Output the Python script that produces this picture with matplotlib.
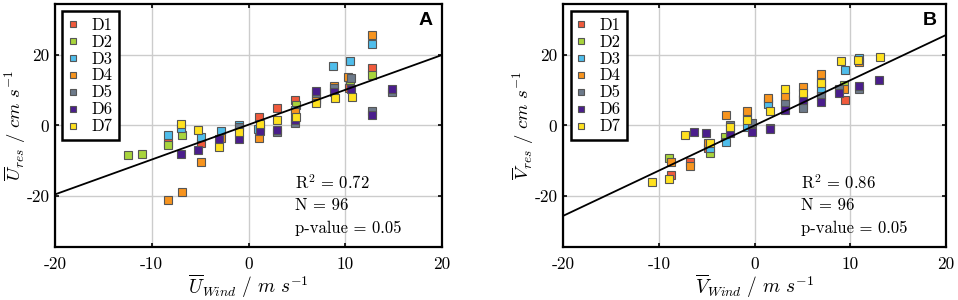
import numpy as np
import matplotlib
matplotlib.use("Agg")
import matplotlib.pyplot as plt

plt.rcParams["font.family"] = ["cmr10", "DejaVu Serif"]
plt.rcParams["mathtext.fontset"] = "cm"
plt.rcParams["axes.unicode_minus"] = False
plt.rcParams["axes.formatter.use_mathtext"] = False

# ---------------------------------------------------------------------------
# DATA
# ---------------------------------------------------------------------------
groups = ["D1", "D2", "D3", "D4", "D5", "D6", "D7"]
colors = ["#F05A3C", "#A8D43C", "#4FBDEB", "#F7941E", "#6D7A8A", "#4A1D8C", "#FFE11F"]

# Panel A: U wind vs U residual
a_x = [
    [-8.3, -4.9, 1.1, 2.9, 4.8, 10.4, 12.8],
    [-12.5, -11.0, -8.3, -6.9, 1.2, 4.9, 10.5, 12.8],
    [-8.3, -7.0, -4.9, -2.8, -1.0, 1.0, 4.8, 7.0, 8.7, 10.5, 12.8],
    [-8.3, -6.9, -4.9, -2.8, 1.1, 4.8, 7.0, 8.8, 10.3, 12.8],
    [-1.0, 2.9, 4.8, 7.0, 8.8, 10.6, 12.8, 14.8],
    [-7.0, -5.2, -3.1, -1.0, 1.2, 2.9, 4.8, 7.0, 8.8, 10.6, 12.8, 14.8],
    [-7.0, -5.2, -3.0, -1.0, 1.2, 2.9, 4.9, 7.0, 8.9, 10.7],
]
a_y = [
    [-4.9, -4.9, 2.5, 5.0, 7.2, 10.7, 16.4],
    [-8.5, -8.0, -5.7, -2.8, -0.5, 5.7, 12.8, 14.2],
    [-2.8, -0.8, -3.3, -1.6, 0.0, -1.1, 4.5, 7.0, 16.8, 18.4, 23.1],
    [-21.3, -18.9, -10.4, -3.7, -3.5, 3.7, 7.6, 11.2, 13.7, 25.8],
    [-0.5, -1.8, 0.7, 9.2, 10.7, 13.5, 4.0, 9.5],
    [-8.2, -7.0, -3.9, -3.9, -1.5, -1.3, 1.4, 9.7, 9.6, 10.3, 2.9, 10.2],
    [0.3, -1.4, -6.2, -1.9, 0.3, 1.6, 2.3, 6.4, 7.9, 8.1],
]

# Panel B: V wind vs V residual
b_x = [
    [-8.7, -6.7, -4.9, 6.9, 9.4],
    [-8.9, -4.7, -3.1, -0.8, 1.4, 5.0, 6.9, 9.3],
    [-4.7, -3.0, -0.8, 1.4, 3.2, 5.0, 6.9, 9.4, 10.9],
    [-8.7, -6.7, -4.9, -3.0, -0.8, 1.4, 3.2, 5.0, 6.9, 9.3, 10.9],
    [-2.6, -0.3, 1.6, 3.2, 5.0, 6.9, 8.8, 10.9],
    [-6.3, -5.1, -2.6, -0.3, 1.6, 3.2, 5.0, 6.9, 8.8, 10.9, 13.0],
    [-10.7, -8.9, -7.3, -4.7, -2.6, -0.8, 1.6, 3.2, 5.0, 6.9, 9.0, 10.8, 13.1],
]
b_y = [
    [-14.2, -10.4, -6.3, 8.8, 7.3],
    [-9.3, -7.9, -3.4, 2.3, 6.8, 5.7, 12.4, 11.4],
    [-6.5, -4.6, -0.4, 6.0, 6.3, 7.5, 10.2, 15.6, 19.0],
    [-10.3, -11.5, -4.9, 2.9, 4.1, 7.8, 8.3, 11.0, 14.6, 10.2, 17.9],
    [0.0, 0.7, -0.6, 6.0, 4.8, 8.3, 10.2, 10.3],
    [-2.0, -2.3, -2.3, -2.0, -0.9, 4.4, 7.2, 6.7, 9.3, 11.1, 12.8],
    [-16.2, -15.3, -2.7, -4.9, -0.5, 1.6, 4.2, 10.2, 9.1, 12.1, 18.3, 18.6, 19.3],
]

# linear fits (slope, intercept) and stats
fit_a = (0.99, 0.2)
fit_b = (1.285, 0.0)
stats_a = ["R$^2$ = 0.72", "N = 96", "p-value = 0.05"]
stats_b = ["R$^2$ = 0.86", "N = 96", "p-value = 0.05"]


# ---------------------------------------------------------------------------
# PLOT
# ---------------------------------------------------------------------------
def draw_panel(ax, xs, ys, fit, stats, letter, xlabel, ylabel):
    for i, g in enumerate(groups):
        ax.plot(xs[i], ys[i], ls="none", marker="s", ms=6.2, mfc=colors[i],
                mec="#555555", mew=0.8, label=g, zorder=3)

    xx = np.array([-20, 20])
    ax.plot(xx, fit[0] * xx + fit[1], color="black", lw=1.3, zorder=4)

    ax.set_xlim(-20, 20)
    ax.set_ylim(-34.5, 34.5)
    ax.set_xticks([-20, -10, 0, 10, 20])
    ax.set_yticks([-20, 0, 20])
    ax.grid(True, color="#cccccc", lw=1.0, zorder=0)
    ax.tick_params(direction="in", top=True, right=True, length=3,
                   width=1.2, labelsize=12.5)
    ax.tick_params(axis="x", pad=7)
    ax.tick_params(axis="y", pad=4)
    for s in ax.spines.values():
        s.set_linewidth(1.6)

    ax.set_xlabel(xlabel, fontsize=14, labelpad=0)
    ax.set_ylabel(ylabel, fontsize=13.5, labelpad=-1)

    for k, t in enumerate(stats):
        ax.text(4.8, -16.3 - 6.5 * k, t, fontsize=12, va="center", ha="left",
                zorder=5)

    ax.text(0.975, 0.93, letter, transform=ax.transAxes, ha="right", va="center",
            fontsize=14, fontweight="bold", family="Liberation Sans")

    leg = ax.legend(loc="upper left", bbox_to_anchor=(0.0, 1.0), fontsize=12,
                    handlelength=0.6, handletextpad=0.8, labelspacing=0.1,
                    borderpad=0.35, borderaxespad=0.45, markerscale=0.72,
                    fancybox=False, framealpha=1)
    leg.get_frame().set_edgecolor("black")
    leg.get_frame().set_linewidth(1.8)
    leg.set_zorder(6)


fig = plt.figure(figsize=(9.58, 3.0), dpi=100)
ax_a = fig.add_axes([0.0574, 0.177, 0.404, 0.81])
ax_b = fig.add_axes([0.5877, 0.177, 0.400, 0.81])

draw_panel(ax_a, a_x, a_y, fit_a, stats_a, "A",
           r"$\overline{U}_{Wind}\ /\ m\ s^{-1}$",
           r"$\overline{U}_{res}\ /\ cm\ s^{-1}$")
draw_panel(ax_b, b_x, b_y, fit_b, stats_b, "B",
           r"$\overline{V}_{Wind}\ /\ m\ s^{-1}$",
           r"$\overline{V}_{res}\ /\ cm\ s^{-1}$")

fig.savefig("out.png", dpi=100)
